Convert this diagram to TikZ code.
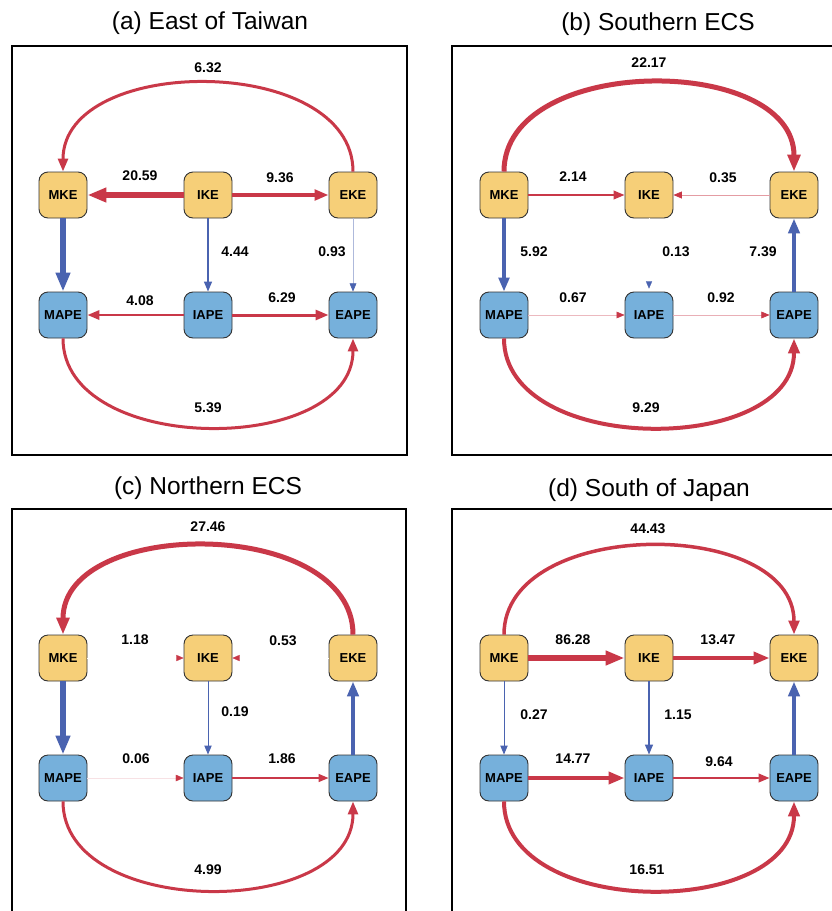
\documentclass[tikz,border=0pt]{standalone}
\usepackage{fontspec}
\setmainfont{Liberation Sans}
\usetikzlibrary{arrows.meta}
\definecolor{cred}{RGB}{201,56,72}
\definecolor{cblue}{RGB}{74,99,176}
\definecolor{cyel}{RGB}{246,207,120}
\definecolor{cnode}{RGB}{118,176,219}
\tikzset{
  box/.style={rounded corners=9pt, draw=black!80, line width=0.9pt, minimum width=48pt, minimum height=46pt, inner sep=0pt, font=\fontsize{13}{15}\selectfont\bfseries},
  ke/.style={box, fill=cyel},
  pe/.style={box, fill=cnode},
  tipf/.style={-{Triangle[length=7pt 2, width=6pt 1.3, color=#1]}},
  redf/.style={draw=cred, line width=#1, tipf=cred},
  bluf/.style={draw=cblue, line width=#1, tipf=cblue},
  redp/.style={draw=cred!50, line width=#1, tipf=cred},
  blup/.style={draw=cblue!45, line width=#1, tipf=cblue},
  redi/.style={draw=white, line width=0.1pt, tipf=cred},
  blui/.style={draw=white, line width=0.1pt, tipf=cblue},
  val/.style={font=\fontsize{14}{16}\selectfont\bfseries},
  ttl/.style={font=\fontsize{24.5}{28}\selectfont},
  frame/.style={draw=black, line width=1.2pt}
}
\newcommand\sixnodes[1]{%
  \node[ke] (#1MKE) at (63,195) {MKE};
  \node[ke] (#1IKE) at (208,195) {IKE};
  \node[ke] (#1EKE) at (353,195) {EKE};
  \node[pe] (#1MAPE) at (63,315) {MAPE};
  \node[pe] (#1IAPE) at (208,315) {IAPE};
  \node[pe] (#1EAPE) at (353,315) {EAPE};
}
\begin{document}
\begin{tikzpicture}[x=1pt,y=-1pt]
\useasboundingbox (0,0) rectangle (832,911);
\clip (0,0) rectangle (832,911);
\fill[white] (0,0) rectangle (832,911);
% ---------------- (a)
\node[ttl] (ta) at (210,23) {(a) East of Taiwan};
\draw[frame] (12,46) rectangle (407,455);
\sixnodes{a}
\draw[redf=3] (aEKE.north) .. controls +(0,-118) and +(0,-118) .. (aMKE.north);
\draw[redf=6] (aIKE.west) -- (aMKE.east);
\draw[redf=3.5] (aIKE.east) -- (aEKE.west);
\draw[bluf=6] (aMKE.south) -- (aMAPE.north);
\draw[bluf=1.5] (aIKE.south) -- (aIAPE.north);
\draw[blup=0.6] (aEKE.south) -- (aEAPE.north);
\draw[redf=2.5] (aIAPE.west) -- (aMAPE.east);
\draw[redf=3] (aIAPE.east) -- (aEAPE.west);
\draw[redf=3] (aMAPE.south) .. controls +(0,118) and +(0,118) .. (aEAPE.south);
\node[val] (la1) at (208,68) {6.32};
\node[val] (la2) at (140,176) {20.59};
\node[val] (la3) at (280,178) {9.36};
\node[val] (la4) at (235,252) {4.44};
\node[val] (la5) at (332,252) {0.93};
\node[val] (la6) at (140,301) {4.08};
\node[val] (la7) at (282,298) {6.29};
\node[val] (la8) at (208,408) {5.39};
% ---------------- (b)
\node[ttl] (tb) at (658,24) {(b) Southern ECS};
\begin{scope}[shift={(441,0)}]
\draw[frame] (11,46) rectangle (406,455);
\sixnodes{b}
\draw[redf=5] (bMKE.north) .. controls +(0,-118) and +(0,-118) .. (bEKE.north);
\draw[redf=2] (bMKE.east) -- (bIKE.west);
\draw[redp=0.7] (bEKE.west) -- (bIKE.east);
\draw[bluf=3.5] (bMKE.south) -- (bMAPE.north);
\draw[blui, shorten >=3pt] (bIKE.south) -- (bIAPE.north);
\draw[bluf=4] (bEAPE.north) -- (bEKE.south);
\draw[redp=0.5, draw=cred!35] (bMAPE.east) -- (bIAPE.west);
\draw[redp=0.6, draw=cred!40] (bIAPE.east) -- (bEAPE.west);
\draw[redf=4] (bMAPE.south) .. controls +(0,118) and +(0,118) .. (bEAPE.south);
\node[val] (lb1) at (208,63) {22.17};
\node[val] (lb2) at (132,177) {2.14};
\node[val] (lb3) at (282,178) {0.35};
\node[val] (lb4) at (93,252) {5.92};
\node[val] (lb5) at (235,252) {0.13};
\node[val] (lb6) at (322,252) {7.39};
\node[val] (lb7) at (132,298) {0.67};
\node[val] (lb8) at (280,298) {0.92};
\node[val] (lb9) at (205,408) {9.29};
\end{scope}
% ---------------- (c)
\node[ttl] (tc) at (208,488) {(c) Northern ECS};
\begin{scope}[shift={(0,463)}]
\draw[frame] (12,46) rectangle (406,460);
\sixnodes{c}
\draw[redf=5] (cEKE.north) .. controls +(0,-118) and +(0,-118) .. (cMKE.north);
\draw[redi] (cMKE.east) -- (cIKE.west);
\draw[redi] (cEKE.west) -- (cIKE.east);
\draw[bluf=6] (cMKE.south) -- (cMAPE.north);
\draw[bluf=1] (cIKE.south) -- (cIAPE.north);
\draw[bluf=4] (cEAPE.north) -- (cEKE.south);
\draw[redp=0.4, draw=cred!15] (cMAPE.east) -- (cIAPE.west);
\draw[redf=1.5] (cIAPE.east) -- (cEAPE.west);
\draw[redf=3] (cMAPE.south) .. controls +(0,118) and +(0,118) .. (cEAPE.south);
\node[val] (lc1) at (208,64) {27.46};
\node[val] (lc2) at (135,177) {1.18};
\node[val] (lc3) at (283,178) {0.53};
\node[val] (lc4) at (235,249) {0.19};
\node[val] (lc5) at (136,296) {0.06};
\node[val] (lc6) at (282,296) {1.86};
\node[val] (lc7) at (208,407) {4.99};
\end{scope}
% ---------------- (d)
\node[ttl] (td) at (649,490) {(d) South of Japan};
\begin{scope}[shift={(441,463)}]
\draw[frame] (11,46) rectangle (406,460);
\sixnodes{d}
\draw[redf=3.5] (dMKE.north) .. controls +(0,-118) and +(0,-118) .. (dEKE.north);
\draw[redf=6] (dMKE.east) -- (dIKE.west);
\draw[redf=4.5] (dIKE.east) -- (dEKE.west);
\draw[bluf=1] (dMKE.south) -- (dMAPE.north);
\draw[bluf=1.5] (dIKE.south) -- (dIAPE.north);
\draw[bluf=4] (dEAPE.north) -- (dEKE.south);
\draw[redf=4.5] (dMAPE.east) -- (dIAPE.west);
\draw[redf=2] (dIAPE.east) -- (dEAPE.west);
\draw[redf=4] (dMAPE.south) .. controls +(0,118) and +(0,118) .. (dEAPE.south);
\node[val] (ld1) at (207,66) {44.43};
\node[val] (ld2) at (132,177) {86.28};
\node[val] (ld3) at (277,177) {13.47};
\node[val] (ld4) at (93,252) {0.27};
\node[val] (ld5) at (237,252) {1.15};
\node[val] (ld6) at (132,296) {14.77};
\node[val] (ld7) at (278,299) {9.64};
\node[val] (ld8) at (206,407) {16.51};
\end{scope}
\end{tikzpicture}
\end{document}
